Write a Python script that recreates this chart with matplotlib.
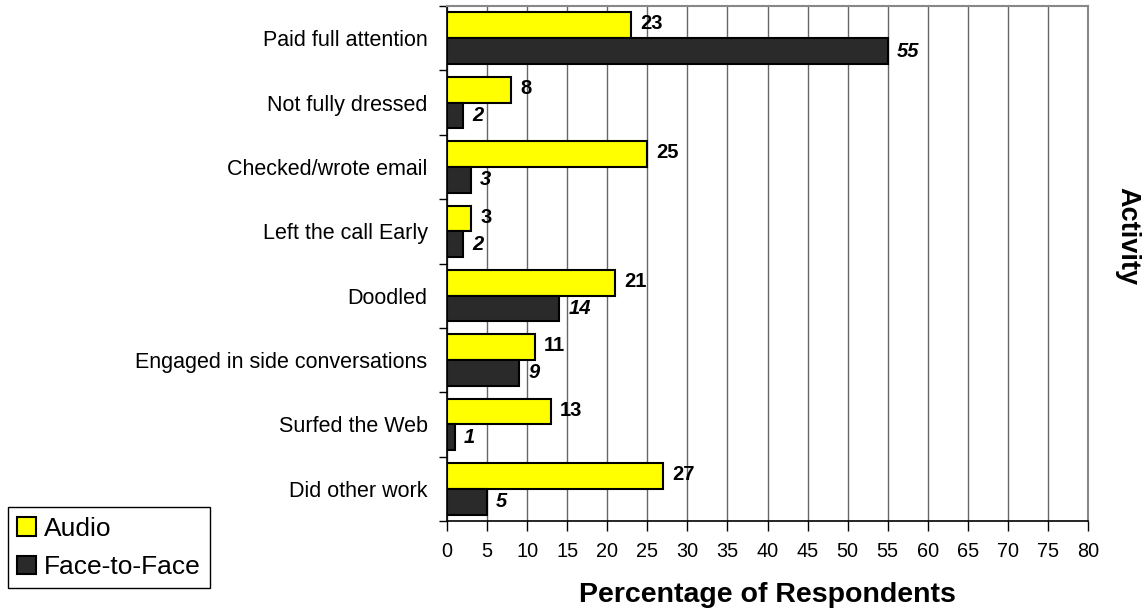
import numpy as np
import matplotlib
matplotlib.use('Agg')
import matplotlib.pyplot as plt

plt.rcParams['font.family'] = ['Liberation Sans', 'DejaVu Sans']

# 数据
activities = ['Paid full attention', 'Not fully dressed', 'Checked/wrote email',
              'Left the call Early', 'Doodled', 'Engaged in side conversations',
              'Surfed the Web', 'Did other work']
audio = [23, 8, 25, 3, 21, 11, 13, 27]
face = [55, 2, 3, 2, 14, 9, 1, 5]
series_names = ['Audio', 'Face-to-Face']

fig = plt.figure(figsize=(11.48, 6.16), dpi=100)
ax = fig.add_axes([0.3894, 0.1542, 0.5584, 0.836])

y = np.arange(len(activities))
h = 0.4
b1 = ax.barh(y - h / 2, audio, height=h, color='#ffff00', edgecolor='black', linewidth=1.5,
             label=series_names[0], zorder=3)
b2 = ax.barh(y + h / 2, face, height=h, color='#2a2a2a', edgecolor='black', linewidth=1.5,
             label=series_names[1], zorder=3)

# 数值标签
for rect, v in zip(b1, audio):
    ax.annotate(str(v), (rect.get_width(), rect.get_y() + rect.get_height() / 2),
                xytext=(6.5, 1), textcoords='offset points', va='center', ha='left',
                fontsize=14.5, fontweight='bold')
for rect, v in zip(b2, face):
    ax.annotate(str(v), (rect.get_width(), rect.get_y() + rect.get_height() / 2),
                xytext=(6.5, 0), textcoords='offset points', va='center', ha='left',
                fontsize=14.5, fontweight='bold', fontstyle='italic')

ax.set_xlim(0, 80)
ax.set_ylim(len(activities) - 0.5, -0.5)
ax.set_xticks(np.arange(0, 81, 5))
ax.set_yticks(y)
ax.set_yticklabels(activities, fontsize=15.5)
ax.set_yticks(np.arange(-0.5, len(activities)), minor=True)
ax.tick_params(axis='y', which='major', length=0, pad=14)
ax.tick_params(axis='y', which='minor', length=6, width=1, direction='out')
ax.tick_params(axis='x', length=7, width=1, direction='out', labelsize=14.3, pad=8)

ax.grid(axis='x', color='#666666', linewidth=1, zorder=0)
for s in ['top', 'right']:
    ax.spines[s].set_color('#888888')
    ax.spines[s].set_linewidth(1.5)
for s in ['left', 'bottom']:
    ax.spines[s].set_color('black')
    ax.spines[s].set_linewidth(1.2)

ax.set_xlabel('Percentage of Respondents', fontsize=20.5, fontweight='bold', labelpad=15)
fig.text(0.982, 0.617, 'Activity', rotation=270, fontsize=19.5, fontweight='bold',
         ha='center', va='center')

leg = fig.legend(loc='lower left', bbox_to_anchor=(0.007, 0.045), fontsize=19,
                 handlelength=0.7, handleheight=0.7, handletextpad=0.3,
                 fancybox=False, edgecolor='black', framealpha=1, borderpad=0.35,
                 labelspacing=0.55, borderaxespad=0)
leg.get_frame().set_linewidth(1)

plt.savefig('out.png', dpi=100)
